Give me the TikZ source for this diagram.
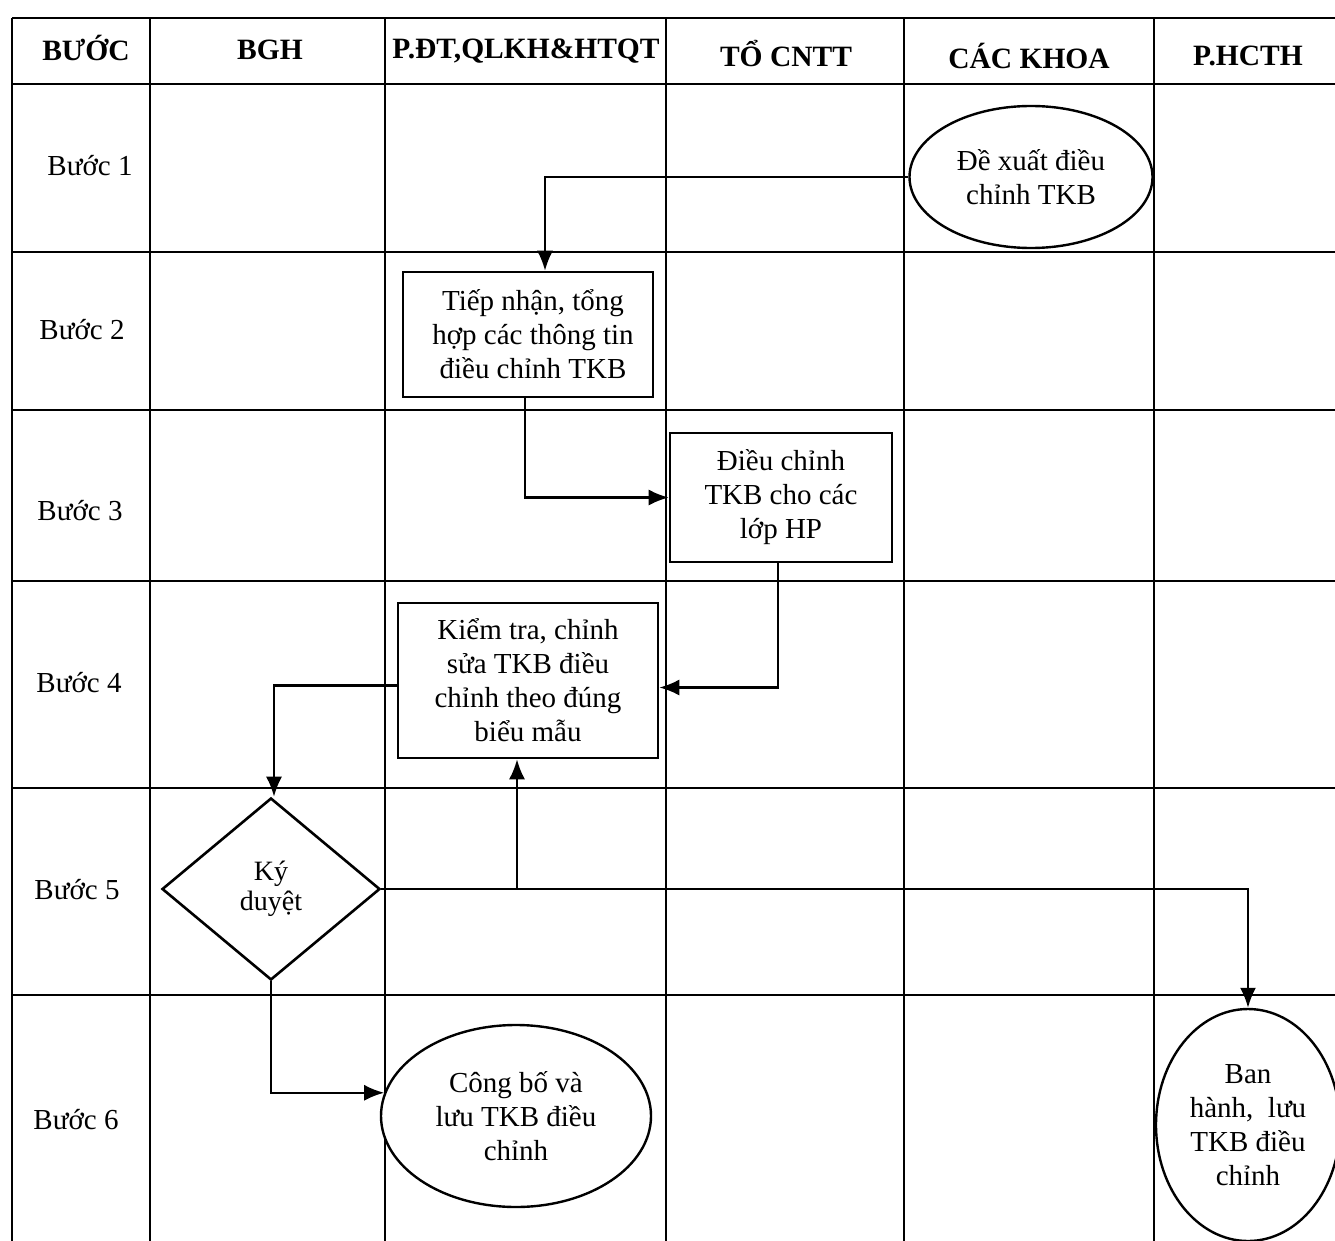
\documentclass[tikz,border=0pt]{standalone}
\usepackage{fontspec}
\setmainfont{Liberation Serif}
\usetikzlibrary{shapes.geometric,arrows.meta}
\begin{document}
\begin{tikzpicture}[x=1pt,y=-1pt,
  grid/.style={line width=2pt,black},
  body/.style={font=\fontsize{29}{34}\selectfont,align=center},
  head/.style={font=\fontsize{29.5}{34}\selectfont\bfseries},
  boxnode/.style={body,draw,line width=2.6pt,fill=white,inner sep=0pt},
  ovalnode/.style={body,ellipse,draw,line width=2.4pt,fill=white,inner sep=0pt},
  decide/.style={body,diamond,draw,line width=2.6pt,fill=white,inner sep=0pt,font=\fontsize{28}{30}\selectfont},
  arr/.style={line width=2.2pt,-{Latex[length=20pt,width=16pt]}},
  conn/.style={line width=2.2pt}]
\useasboundingbox (0,0) rectangle (1335,1241);
% table
\foreach \y in {18,84,252,410,581,788,995} \draw[grid] (12,\y) -- (1335,\y);
\foreach \x in {12,150,385,666,904,1154} \draw[grid] (\x,18) -- (\x,1241);
% headers
\node[head] (h0) at (86,48) {BƯỚC};
\node[head] (h1) at (270,50) {BGH};
\node[head] (h2) at (526,51) {P.ĐT,QLKH\&HTQT};
\node[head] (h3) at (786,54) {TỔ CNTT};
\node[head] (h4) at (1029,56) {CÁC KHOA};
\node[head] (h5) at (1248,56) {P.HCTH};
% step labels
\node[body] (s1) at (90,166) {Bước 1};
\node[body] (s2) at (82,330) {Bước 2};
\node[body] (s3) at (80,511) {Bước 3};
\node[body] (s4) at (79,683) {Bước 4};
\node[body] (s5) at (77,890) {Bước 5};
\node[body] (s6) at (76,1120) {Bước 6};
% shapes
\node[ovalnode,minimum width=243pt,minimum height=142pt] (e1) at (1031,177) {Đề xuất điều\\chỉnh TKB};
\node[boxnode,minimum width=250pt,minimum height=125pt] (r2) at (528,334.5) {\hspace*{10pt}Tiếp nhận, tổng\\\hspace*{10pt}hợp các thông tin\\\hspace*{10pt}điều chỉnh TKB};
\node[boxnode,minimum width=222pt,minimum height=129pt] (r3) at (781,497.5) {Điều chỉnh\\TKB cho các\\lớp HP};
\node[boxnode,minimum width=260pt,minimum height=155pt] (r4) at (528,680.5) {Kiểm tra, chỉnh\\sửa TKB điều\\chỉnh theo đúng\\biểu mẫu};
\node[decide,minimum width=218pt,minimum height=182pt] (d) at (271,889) {\raisebox{-6pt}{\begin{tabular}{@{}c@{}}Ký\\duyệt\end{tabular}}};
\node[ovalnode,minimum width=270pt,minimum height=182pt] (e2) at (516,1116) {Công bố và\\lưu TKB điều\\chỉnh};
\node[ovalnode,minimum width=184pt,minimum height=232pt] (e3) at (1248,1125) {Ban\\hành,\ \ lưu\\TKB điều\\chỉnh};
% connectors
\draw[arr] (e1.west) -| ([xshift=17pt]r2.north);
\draw[arr] ([xshift=-3pt]r2.south) |- (r3.west);
\draw[arr] ([xshift=-3pt]r3.south) |- ([yshift=-7pt]r4.east);
\draw[arr] ([yshift=-5pt]r4.west) -| ([xshift=3pt]d.north);
\coordinate (b) at ([xshift=-11pt]r4.south);
\draw[arr] (d.east) -| (e3.north);
\draw[arr] (d.east -| b) -- (b);
\draw[arr] (d.south) |- (e2.170);
\end{tikzpicture}
\end{document}
